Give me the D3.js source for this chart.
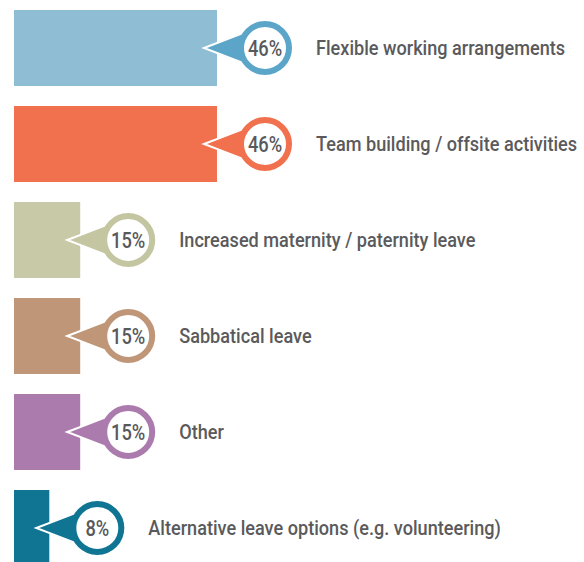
<!DOCTYPE html>
<html>
<head>
<meta charset="utf-8">
<script src="https://cdn.jsdelivr.net/npm/d3@7"></script>
<style>
  html, body { margin: 0; padding: 0; background: #fff; }
  svg text { font-family: "Roboto", "Liberation Sans", sans-serif; font-weight: 500; }
</style>
</head>
<body>
<div id="chart"></div>
<script>
// Chart data
const categories = [
    "Flexible working arrangements",
    "Team building / offsite activities",
    "Increased maternity / paternity leave",
    "Sabbatical leave",
    "Other",
    "Alternative leave options (e.g. volunteering)"
];
const values = [46, 46, 15, 15, 15, 8];
const barColors = ["#8fbdd3", "#f1704e", "#c8c9a6", "#bf9677", "#ac7bae", "#0f7592"];
const ringColors = ["#5ba6c8", "#f1704e", "#c4c6a1", "#bf9677", "#ac7bae", "#0f7592"];

const width = 584, height = 562;

const svg = d3.select("#chart")
    .append("svg")
    .attr("width", width)
    .attr("height", height);

// Scales
const x = d3.scaleLinear()
    .domain([0, 46])
    .range([14, 217]);

const y = d3.scaleBand()
    .domain(categories)
    .range([10, 566])
    .paddingInner(20 / 96)
    .paddingOuter(0);

const rows = categories.map((c, i) => ({ name: c, value: values[i], bar: barColors[i], ring: ringColors[i] }));

const g = svg.selectAll(".row")
    .data(rows)
    .enter()
    .append("g")
    .attr("class", "row");

// Bars
g.append("rect")
    .attr("x", x(0))
    .attr("y", d => y(d.name))
    .attr("width", d => x(d.value) - x(0))
    .attr("height", y.bandwidth())
    .attr("fill", d => d.bar);

// Bubble geometry, relative to the end of the bar
const ringR = 24, ringW = 6, bubbleOffset = 48, tipOffset = -13;
const cxOf = d => x(d.value) + bubbleOffset;
const cyOf = d => y(d.name) + y.bandwidth() / 2;

// Pointer triangle
g.append("path")
    .attr("d", d => {
        const cx = cxOf(d), cy = cyOf(d);
        const tx = x(d.value) + tipOffset;
        const a = 34 * Math.PI / 180;
        const r = 26.5;
        return `M${tx},${cy} L${cx - r * Math.cos(a)},${cy - r * Math.sin(a)} L${cx - r * Math.cos(a)},${cy + r * Math.sin(a)} Z`;
    })
    .attr("fill", d => d.ring)
    .attr("stroke", "#fff")
    .attr("stroke-width", 2)
    .attr("stroke-linejoin", "miter");

// Ring
g.append("circle")
    .attr("cx", cxOf)
    .attr("cy", cyOf)
    .attr("r", ringR)
    .attr("fill", "#fff")
    .attr("stroke", d => d.ring)
    .attr("stroke-width", ringW);

// Percentage inside the ring (squeezed for a condensed look)
g.append("text")
    .attr("transform", d => `translate(${cxOf(d)},${cyOf(d) + 7.5}) scale(0.85,1)`)
    .attr("text-anchor", "middle")
    .style("font-size", "21.5px")
    .style("fill", "#58595b")
    .text(d => d.value + "%");

// Category labels
g.append("text")
    .attr("transform", d => `translate(${cxOf(d) + 51},${cyOf(d) + 6.5}) scale(0.93,1)`)
    .style("font-size", "19.5px")
    .style("fill", "#5a5a5c")
    .text(d => d.name);
</script>
</body>
</html>
